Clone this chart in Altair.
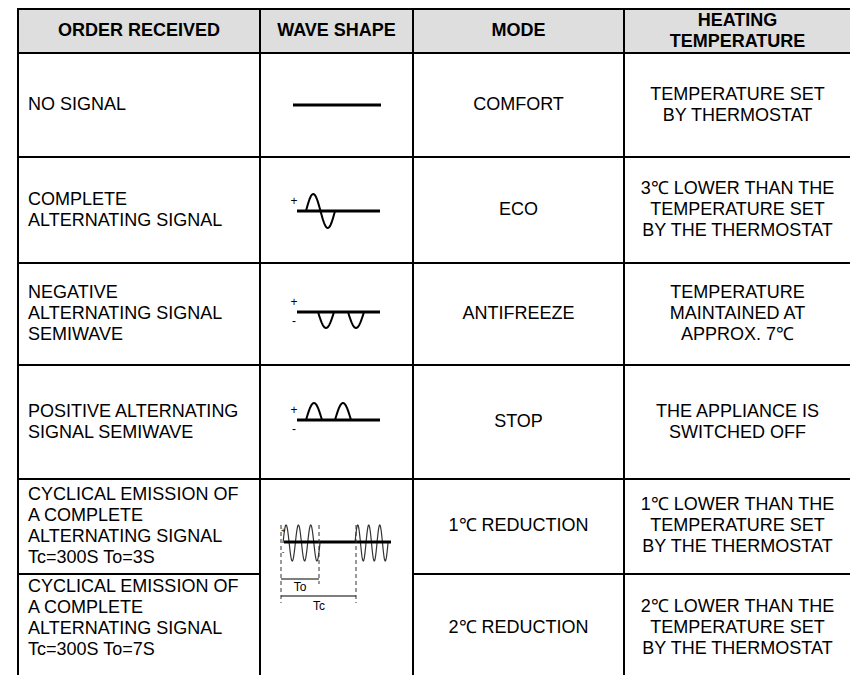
import altair as alt
import numpy as np
import pandas as pd

# ---------------- table content ----------------
headers = ["ORDER RECEIVED", "WAVE SHAPE", "MODE", "HEATING\nTEMPERATURE"]
orders = [
    "NO SIGNAL",
    "COMPLETE\nALTERNATING SIGNAL",
    "NEGATIVE\nALTERNATING SIGNAL\nSEMIWAVE",
    "POSITIVE ALTERNATING\nSIGNAL SEMIWAVE",
    "CYCLICAL EMISSION OF\nA COMPLETE\nALTERNATING SIGNAL\nTc=300S To=3S",
    "CYCLICAL EMISSION OF\nA COMPLETE\nALTERNATING SIGNAL\nTc=300S To=7S",
]
modes = ["COMFORT", "ECO", "ANTIFREEZE", "STOP", "1℃ REDUCTION", "2℃ REDUCTION"]
temps = [
    "TEMPERATURE SET\nBY THERMOSTAT",
    "3℃ LOWER THAN THE\nTEMPERATURE SET\nBY THE THERMOSTAT",
    "TEMPERATURE\nMAINTAINED AT\nAPPROX. 7℃",
    "THE APPLIANCE IS\nSWITCHED OFF",
    "1℃ LOWER THAN THE\nTEMPERATURE SET\nBY THE THERMOSTAT",
    "2℃ LOWER THAN THE\nTEMPERATURE SET\nBY THE THERMOSTAT",
]

# ---------------- layout (page pixels) ----------------
col_edges = [18, 260, 413, 624, 851]
row_edges = [9, 53, 157, 263, 365, 479, 574, 675]
header_center = 31
row_centers = [105, 210, 314, 422, 526, 618]
row_centers_right = [105, 210, 314, 422, 526, 628]
text_left = 28

W, H = 842, 667
FONT = "Liberation Sans"
FS = 18
LH = 21

xs = alt.Scale(domain=[8, 8 + W], nice=False, zero=False)
ys = alt.Scale(domain=[8, 8 + H], nice=False, zero=False, reverse=True)
X = lambda f: alt.X(f, type="quantitative", scale=xs, axis=None)
Y = lambda f: alt.Y(f, type="quantitative", scale=ys, axis=None)


def block(xv, centers, texts):
    df = pd.DataFrame({"x": xv, "c": centers, "t": texts})
    n = df["t"].str.count("\n")
    df["y"] = df["c"] - n * LH / 2
    return df


# header background
hdr = pd.DataFrame({"x": [col_edges[0]], "x2": [col_edges[-1]],
                    "y": [row_edges[0]], "y2": [row_edges[1]]})
hdr_layer = alt.Chart(hdr).mark_rect(fill="#dedede").encode(
    x=X("x"), x2="x2", y=Y("y"), y2="y2")

# grid lines
segs = []
for yv in row_edges[:-1]:
    if yv == 574:
        segs.append((col_edges[0], yv, col_edges[1], yv))
        segs.append((col_edges[2], yv, col_edges[4], yv))
    else:
        segs.append((col_edges[0] - 1, yv, col_edges[-1] + 1, yv))
for xv in col_edges:
    segs.append((xv, row_edges[0] - 1, xv, row_edges[-1]))
grid = pd.DataFrame(segs, columns=["x", "y", "x2", "y2"])
grid_layer = alt.Chart(grid).mark_rule(color="black", strokeWidth=2).encode(
    x=X("x"), x2="x2", y=Y("y"), y2="y2")

# texts
mid = lambda a, b: (a + b) / 2
hdr_txt = block([mid(col_edges[i], col_edges[i + 1]) for i in range(4)],
                [header_center] * 4, headers)
hdr_text = alt.Chart(hdr_txt).mark_text(
    font=FONT, fontSize=FS, fontWeight="bold", lineBreak="\n", lineHeight=LH,
    align="center", baseline="middle", color="black").encode(
    x=X("x"), y=Y("y"), text="t")

c1 = block([text_left] * 6, row_centers, orders)
c1_text = alt.Chart(c1).mark_text(
    font=FONT, fontSize=FS, lineBreak="\n", lineHeight=LH,
    align="left", baseline="middle", color="black").encode(
    x=X("x"), y=Y("y"), text="t")

c34 = block([mid(col_edges[2], col_edges[3])] * 6 + [mid(col_edges[3], col_edges[4])] * 6,
            row_centers_right * 2, modes + temps)
c34_text = alt.Chart(c34).mark_text(
    font=FONT, fontSize=FS, lineBreak="\n", lineHeight=LH,
    align="center", baseline="middle", color="black").encode(
    x=X("x"), y=Y("y"), text="t")

# ---------------- wave glyphs (drawn shapes) ----------------
rows = []
def add(seg, xv, yv, w, c="black"):
    for a, b in zip(xv, yv):
        rows.append({"seg": seg, "x": float(a), "y": float(b), "w": w, "c": c})

t = np.linspace(0, 1, 40)
add("r1", [293, 381], [105, 105], 3)
add("r2a", [297, 380], [211, 211], 3)
add("r2s", 306 + 29 * t, 211 - 17 * np.sin(2 * np.pi * t), 2)
add("r3a", [297, 380], [312, 312], 3)
for k, x0 in enumerate([318, 348]):
    add(f"r3s{k}", x0 + 16 * t, 312 + 16 * np.sin(np.pi * t), 2)
add("r4a", [297, 380], [420, 420], 3)
for k, x0 in enumerate([306, 335]):
    add(f"r4s{k}", x0 + 16 * t, 420 - 17 * np.sin(np.pi * t), 2)
t2 = np.linspace(0, 1, 120)
add("r5b1", 283 + 37 * t2, 543 - 18 * np.sin(2 * np.pi * 3 * t2), 1.2, "#333333")
add("r5b2", 355 + 33 * t2, 543 - 18 * np.sin(2 * np.pi * 3 * t2), 1.2, "#333333")
add("r5a", [284, 391], [542, 542], 3)
add("to", [281, 319], [579, 579], 1.5, "#555555")
add("tc", [281, 356], [596, 596], 1.5, "#555555")
waves = pd.DataFrame(rows)
waves["i"] = range(len(waves))
wave_layer = alt.Chart(waves).mark_line(strokeCap="butt").encode(
    x=X("x"), y=Y("y"), detail="seg:N", order="i:Q",
    strokeWidth=alt.StrokeWidth("w:Q", scale=None),
    color=alt.Color("c:N", scale=None))

dash = pd.DataFrame({"x": [281, 319, 356], "y": [525, 525, 525], "y2": [603, 584, 603]})
dash_layer = alt.Chart(dash).mark_rule(color="#333333", strokeWidth=1, strokeDash=[4, 3]).encode(
    x=X("x"), y=Y("y"), y2="y2")

signs = pd.DataFrame({
    "x": [294, 294, 294, 294, 294, 283, 283, 300, 319],
    "y": [201, 302, 321, 410, 429, 531, 552, 587, 606],
    "t": ["+", "+", "-", "+", "-", "+", "-", "To", "Tc"],
    "s": [12, 12, 12, 12, 12, 8, 8, 12, 12]})
sign_layer = alt.Chart(signs).mark_text(
    font=FONT, align="center", baseline="middle", color="black").encode(
    x=X("x"), y=Y("y"), text="t", size=alt.Size("s:Q", scale=None))

chart = alt.layer(hdr_layer, grid_layer, hdr_text, c1_text, c34_text,
                  wave_layer, dash_layer, sign_layer).properties(
    width=W, height=H, padding=0, autosize=alt.AutoSizeParams(type="none"),
    background="white"
).configure_view(strokeWidth=0)

chart.save("out.html", embed_options={"renderer": "svg", "actions": False})
